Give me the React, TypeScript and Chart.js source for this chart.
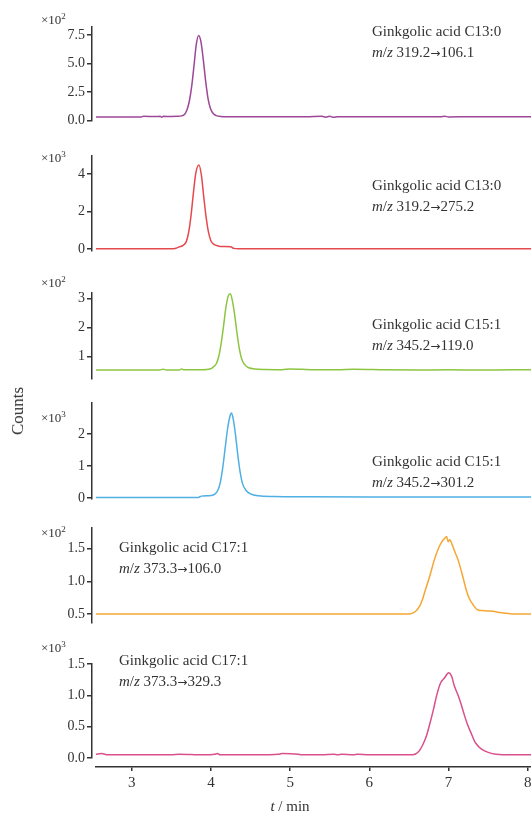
import React, { useEffect, useRef } from 'react';
import { Chart, registerables } from 'chart.js';

Chart.register(...registerables);

// ---------- shared axis ----------
const X_MIN = 2.5;
const X_MAX = 8.04;
const xTicks = [3, 4, 5, 6, 7, 8];

// ---------- data (retention time in min, counts in panel units) ----------
// Panel 1: C13:0, m/z 319.2 -> 106.1 (x10^2)
const c13a_t = [2.55, 2.8, 3.0, 3.12, 3.15, 3.3, 3.36, 3.38, 3.4, 3.5, 3.58, 3.63, 3.67, 3.7, 3.73, 3.76, 3.79, 3.815, 3.845, 3.875, 3.905, 3.935, 3.965, 3.995, 4.03, 4.07, 4.12, 4.2, 4.4, 4.8, 5.2, 5.4, 5.45, 5.5, 5.55, 5.6, 5.7, 6.0, 6.5, 6.9, 6.95, 7.0, 7.3, 7.7, 8.04];
const c13a_v = [0.3, 0.3, 0.3, 0.3, 0.36, 0.35, 0.36, 0.28, 0.36, 0.35, 0.36, 0.4, 0.55, 0.95, 1.75, 3.1, 5.0, 6.6, 7.45, 6.9, 5.3, 3.4, 1.9, 1.05, 0.6, 0.42, 0.35, 0.32, 0.32, 0.32, 0.32, 0.36, 0.28, 0.36, 0.27, 0.33, 0.32, 0.32, 0.32, 0.32, 0.36, 0.31, 0.32, 0.32, 0.32];

// Panel 2: C13:0, m/z 319.2 -> 275.2 (x10^3)
const c13b_t = [2.55, 3.0, 3.5, 3.56, 3.6, 3.65, 3.69, 3.72, 3.75, 3.78, 3.81, 3.85, 3.88, 3.91, 3.94, 3.97, 4.0, 4.04, 4.09, 4.15, 4.25, 4.29, 4.35, 5.0, 6.0, 7.0, 8.04];
const c13b_v = [0.02, 0.02, 0.02, 0.05, 0.12, 0.2, 0.4, 0.9, 1.8, 3.0, 4.05, 4.48, 3.95, 2.8, 1.7, 0.9, 0.45, 0.25, 0.17, 0.14, 0.13, 0.04, 0.02, 0.02, 0.02, 0.02, 0.02];

// Panel 3: C15:1, m/z 345.2 -> 119.0 (x10^2)
const c15a_t = [2.55, 3.0, 3.35, 3.4, 3.44, 3.5, 3.6, 3.63, 3.66, 3.8, 3.95, 4.02, 4.07, 4.1, 4.13, 4.16, 4.19, 4.22, 4.245, 4.27, 4.3, 4.33, 4.36, 4.39, 4.43, 4.48, 4.55, 4.7, 4.9, 5.0, 5.3, 5.6, 5.8, 6.2, 6.6, 7.0, 7.4, 7.8, 8.04];
const c15a_v = [0.52, 0.52, 0.52, 0.55, 0.52, 0.52, 0.52, 0.56, 0.53, 0.53, 0.54, 0.6, 0.75, 1.0, 1.45, 2.05, 2.7, 3.1, 3.17, 2.95, 2.45, 1.8, 1.25, 0.9, 0.7, 0.6, 0.56, 0.54, 0.53, 0.56, 0.53, 0.53, 0.55, 0.53, 0.52, 0.53, 0.52, 0.53, 0.53];

// Panel 4: C15:1, m/z 345.2 -> 301.2 (x10^3)
const c15b_t = [2.55, 3.0, 3.5, 3.84, 3.88, 4.0, 4.05, 4.09, 4.12, 4.15, 4.18, 4.21, 4.24, 4.26, 4.28, 4.31, 4.34, 4.37, 4.4, 4.44, 4.5, 4.6, 4.8, 5.2, 6.0, 7.0, 8.04];
const c15b_v = [0.02, 0.02, 0.02, 0.02, 0.06, 0.08, 0.12, 0.25, 0.5, 0.95, 1.55, 2.15, 2.55, 2.66, 2.5, 2.0, 1.35, 0.8, 0.45, 0.25, 0.13, 0.07, 0.05, 0.04, 0.03, 0.03, 0.03];

// Panel 5: C17:1, m/z 373.3 -> 106.0 (x10^2)
const c17a_t = [2.55, 4.0, 5.5, 6.5, 6.56, 6.6, 6.64, 6.67, 6.71, 6.76, 6.82, 6.87, 6.91, 6.95, 6.975, 6.995, 7.015, 7.04, 7.08, 7.12, 7.18, 7.22, 7.26, 7.31, 7.37, 7.45, 7.56, 7.65, 7.73, 7.8, 8.04];
const c17a_v = [0.5, 0.5, 0.5, 0.5, 0.52, 0.56, 0.63, 0.72, 0.88, 1.07, 1.33, 1.5, 1.6, 1.66, 1.69, 1.61, 1.64, 1.58, 1.45, 1.33, 1.07, 0.88, 0.74, 0.64, 0.56, 0.55, 0.54, 0.52, 0.51, 0.5, 0.5];

// Panel 6: C17:1, m/z 373.3 -> 329.3 (x10^3)
const c17b_t = [2.55, 2.62, 2.7, 2.85, 3.1, 3.3, 3.5, 3.6, 3.9, 4.05, 4.08, 4.12, 4.3, 4.6, 4.85, 4.9, 5.1, 5.15, 5.4, 5.55, 5.6, 5.65, 5.8, 5.85, 6.0, 6.3, 6.55, 6.62, 6.67, 6.72, 6.76, 6.81, 6.85, 6.9, 6.95, 7.0, 7.04, 7.07, 7.12, 7.16, 7.2, 7.24, 7.29, 7.33, 7.38, 7.43, 7.5, 7.6, 7.8, 8.04];
const c17b_v = [0.06, 0.07, 0.05, 0.05, 0.05, 0.05, 0.05, 0.06, 0.05, 0.06, 0.07, 0.05, 0.05, 0.05, 0.06, 0.07, 0.06, 0.05, 0.05, 0.06, 0.05, 0.06, 0.05, 0.06, 0.05, 0.05, 0.05, 0.1, 0.2, 0.35, 0.53, 0.78, 1.0, 1.2, 1.28, 1.36, 1.3, 1.16, 1.0, 0.85, 0.68, 0.53, 0.38, 0.26, 0.18, 0.13, 0.09, 0.06, 0.05, 0.05];

// tick values per panel
const ticks1 = [0, 2.5, 5, 7.5];
const ticks2 = [0, 2, 4];
const ticks3 = [1, 2, 3];
const ticks4 = [0, 1, 2];
const ticks5 = [0.5, 1.0, 1.5];
const ticks6 = [0, 0.5, 1.0, 1.5];

const names = ['Ginkgolic acid C13:0', 'Ginkgolic acid C13:0', 'Ginkgolic acid C15:1', 'Ginkgolic acid C15:1', 'Ginkgolic acid C17:1', 'Ginkgolic acid C17:1'];
const precursors = ['319.2', '319.2', '345.2', '345.2', '373.3', '373.3'];
const products = ['106.1', '275.2', '119.0', '301.2', '106.0', '329.3'];
const exponents = ['2', '3', '2', '3', '2', '3'];

const FONT = "'Liberation Serif', 'Times New Roman', serif";
const INK = '#333';
const AXIS_X = 92;
const PAD_T = 30;
const PAD_B = 12;

type Panel = {
  t: number[]; v: number[]; color: string; yMin: number; yMax: number; ticks: number[]; digits: number;
  top: number; bottom: number; textX: number; textY: number; expY: number; idx: number;
};

const panels: Panel[] = [
  { idx: 0, t: c13a_t, v: c13a_v, color: '#9e4796', yMin: -0.05, yMax: 8.2, ticks: ticks1, digits: 1, top: 27, bottom: 121, textX: 372, textY: 31, expY: 20 },
  { idx: 1, t: c13b_t, v: c13b_v, color: '#e5494d', yMin: -0.1, yMax: 4.96, ticks: ticks2, digits: 0, top: 156, bottom: 251, textX: 372, textY: 185, expY: 158 },
  { idx: 2, t: c15a_t, v: c15a_v, color: '#8cc540', yMin: 0.21, yMax: 3.2, ticks: ticks3, digits: 0, top: 293, bottom: 379, textX: 372, textY: 324, expY: 283 },
  { idx: 3, t: c15b_t, v: c15b_v, color: '#4fb0e3', yMin: -0.03, yMax: 2.97, ticks: ticks4, digits: 0, top: 403, bottom: 499, textX: 372, textY: 461, expY: 418 },
  { idx: 4, t: c17a_t, v: c17a_v, color: '#f6a632', yMin: 0.36, yMax: 1.82, ticks: ticks5, digits: 1, top: 528, bottom: 623, textX: 119, textY: 547, expY: 533 },
  { idx: 5, t: c17b_t, v: c17b_v, color: '#d9508a', yMin: 0, yMax: 1.5, ticks: ticks6, digits: 1, top: 664, bottom: 758, textX: 119, textY: 660, expY: 648 },
];

function PanelChart({ p }: { p: Panel }) {
  const ref = useRef<HTMLCanvasElement>(null);
  useEffect(() => {
    const chart = new Chart(ref.current as HTMLCanvasElement, {
      type: 'line',
      data: {
        datasets: [{
          data: p.t.map((x, i) => ({ x, y: p.v[i] })),
          borderColor: p.color,
          borderWidth: 1.5,
          pointRadius: 0,
          cubicInterpolationMode: 'monotone',
          fill: false,
        }],
      },
      options: {
        animation: false,
        responsive: false,
        events: [],
        layout: { padding: { top: PAD_T, bottom: PAD_B, left: 0, right: 0 } },
        plugins: { legend: { display: false }, tooltip: { enabled: false } },
        scales: {
          x: { type: 'linear', display: false, min: X_MIN, max: X_MAX },
          y: {
            type: 'linear',
            min: p.yMin,
            max: p.yMax,
            afterBuildTicks: (s: any) => { s.ticks = p.ticks.map((value) => ({ value })); },
            afterFit: (s: any) => { s.width = AXIS_X; s.paddingTop = 0; s.paddingBottom = 0; },
            border: { display: true, color: INK, width: 1.5 },
            grid: { display: true, drawOnChartArea: false, drawTicks: true, tickLength: 5, color: INK, lineWidth: 1.5 },
            ticks: {
              padding: 2,
              color: INK,
              font: { family: FONT, size: 14 },
              callback: (val: any) => Number(val).toFixed(p.digits),
            },
          },
        },
      },
    } as any);
    return () => chart.destroy();
  }, []);
  return (
    <canvas
      ref={ref}
      width={531}
      height={p.bottom - p.top + PAD_T + PAD_B}
      style={{ position: 'absolute', left: 0, top: p.top - PAD_T }}
    />
  );
}

function XAxisChart() {
  const ref = useRef<HTMLCanvasElement>(null);
  useEffect(() => {
    const chart = new Chart(ref.current as HTMLCanvasElement, {
      type: 'line',
      data: { datasets: [] },
      options: {
        animation: false,
        responsive: false,
        events: [],
        layout: { padding: { top: 0, bottom: 0, left: 96, right: 0 } },
        plugins: { legend: { display: false }, tooltip: { enabled: false } },
        scales: {
          x: {
            type: 'linear',
            min: 2.55,
            max: X_MAX,
            afterBuildTicks: (s: any) => { s.ticks = xTicks.map((value) => ({ value })); },
            afterFit: (s: any) => { s.height = 30; s.paddingLeft = 0; s.paddingRight = 0; },
            border: { display: true, color: INK, width: 1.5 },
            grid: { display: true, drawOnChartArea: false, drawTicks: true, tickLength: 4, color: INK, lineWidth: 1.5 },
            ticks: { padding: 3, color: INK, font: { family: FONT, size: 15 }, maxRotation: 0, autoSkip: false },
          },
          y: { display: false, min: 0, max: 1 },
        },
      },
    } as any);
    return () => chart.destroy();
  }, []);
  return <canvas ref={ref} width={531} height={60} style={{ position: 'absolute', left: 0, top: 737 }} />;
}

export default function App() {
  return (
    <div style={{ position: 'absolute', left: 0, top: 0, width: 531, height: 815, background: '#fff', fontFamily: FONT, color: INK, overflow: 'hidden' }}>
      {panels.map((p) => <PanelChart key={p.idx} p={p} />)}
      <XAxisChart />
      {panels.map((p) => (
        <React.Fragment key={'t' + p.idx}>
          <div style={{ position: 'absolute', left: p.textX, top: p.textY - 10, lineHeight: '20px', fontSize: 15, whiteSpace: 'nowrap' }}>
            {names[p.idx]}
          </div>
          <div style={{ position: 'absolute', left: p.textX, top: p.textY + 11, lineHeight: '20px', fontSize: 15, whiteSpace: 'nowrap' }}>
            <i>m</i>/<i>z</i> {precursors[p.idx]}
            <span style={{ fontFamily: "'DejaVu Sans', sans-serif", fontSize: 12 }}>→</span>
            {products[p.idx]}
          </div>
          <div style={{ position: 'absolute', left: 41, top: p.expY - 9, lineHeight: '18px', fontSize: 13, whiteSpace: 'nowrap' }}>
            ×10<span style={{ fontSize: 9, position: 'relative', top: -5 }}>{exponents[p.idx]}</span>
          </div>
        </React.Fragment>
      ))}
      <div style={{ position: 'absolute', left: 18, top: 411, fontSize: 17, whiteSpace: 'nowrap', transform: 'translate(-50%, -50%) rotate(-90deg)' }}>
        Counts
      </div>
      <div style={{ position: 'absolute', left: 290, top: 806, fontSize: 15, whiteSpace: 'nowrap', transform: 'translate(-50%, -50%)' }}>
        <i>t</i> / min
      </div>
    </div>
  );
}
